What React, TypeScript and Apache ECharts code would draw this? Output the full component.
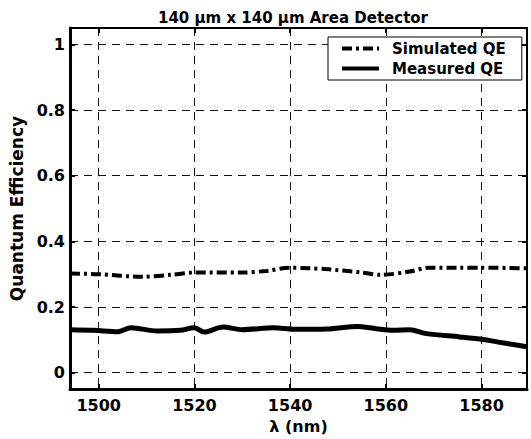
import React, { useEffect, useRef } from "react";
import * as echarts from "echarts";

const simWavelengths = [1494, 1500, 1509, 1515, 1520, 1530, 1535, 1540, 1544, 1548, 1555, 1559, 1565, 1569, 1575, 1580, 1589.5];
const simValues = [0.302, 0.300, 0.292, 0.298, 0.305, 0.305, 0.310, 0.320, 0.318, 0.315, 0.305, 0.298, 0.308, 0.320, 0.320, 0.320, 0.318];

const measWavelengths = [1494, 1499, 1504, 1506.7, 1512.3, 1517, 1520, 1522, 1526, 1530, 1536.6, 1541, 1547.7, 1554, 1558, 1561.5, 1565, 1568.5, 1575.4, 1580.3, 1584.4, 1589.5];
const measValues = [0.131, 0.129, 0.125, 0.137, 0.127, 0.129, 0.137, 0.124, 0.139, 0.131, 0.137, 0.132, 0.133, 0.141, 0.134, 0.129, 0.131, 0.119, 0.109, 0.101, 0.091, 0.079];

const seriesNames = ["Simulated QE", "Measured QE"];
const titleText = "140 \u00b5m x 140 \u00b5m Area Detector";
const xName = "\u03bb (nm)";
const yName = "Quantum Efficiency";

const FONT = "DejaVu Sans";

export default function App() {
  const ref = useRef<HTMLDivElement>(null);
  useEffect(() => {
    if (!ref.current) return;
    const chart = echarts.init(ref.current, null, { renderer: "svg" });
    const xMin = 1494, xMax = 1589.5, yMin = -0.05, yMax = 1.05;
    const gridLine = { show: true, lineStyle: { type: [8, 6], color: "#111", width: 1 } };
    const xFmt = (v: number) => (Math.abs(v % 20) < 1e-6 ? String(v) : "");
    const yFmt = (v: number) => {
      const r = Math.round(v * 10) / 10;
      if (Math.abs(r - v) > 1e-6 || v < -1e-9 || v > 1 + 1e-9) return "";
      return String(r);
    };
    const labelStyle = { fontFamily: FONT, fontWeight: "bold", fontSize: 16, color: "#000" };
    chart.setOption({
      animation: false,
      backgroundColor: "#fff",
      title: {
        text: titleText,
        left: 153,
        top: 5,
        textStyle: { fontFamily: FONT, fontWeight: "bold", fontSize: 15, color: "#000" },
      },
      legend: {
        orient: "vertical",
        left: 328,
        top: 37,
        padding: [4, 16, 4, 12],
        itemWidth: 37,
        itemHeight: 14,
        itemGap: 5,
        backgroundColor: "#fff",
        borderColor: "#000",
        borderWidth: 1,
        borderRadius: 0,
        itemStyle: { color: "transparent", borderWidth: 0, opacity: 0 },
        lineStyle: { width: 4 },
        textStyle: { fontFamily: FONT, fontWeight: "bold", fontSize: 15, color: "#000", padding: [0, 0, 0, 8] },
        data: [{ name: seriesNames[0] }, { name: seriesNames[1] }],
      },
      grid: { left: 69, right: 4, top: 28, bottom: 46, containLabel: false },
      xAxis: [
        {
          type: "value",
          min: xMin,
          max: xMax,
          minInterval: 20,
          maxInterval: 20,
          position: "bottom",
          name: xName,
          nameLocation: "middle",
          nameGap: 26,
          nameTextStyle: labelStyle,
          axisLine: { show: true, onZero: false, lineStyle: { color: "#000", width: 3 } },
          axisTick: { show: true, inside: true, length: 5, lineStyle: { color: "#000", width: 2 } },
          axisLabel: { ...labelStyle, formatter: xFmt, margin: 8 },
          splitLine: gridLine,
        },
        {
          type: "value",
          min: xMin,
          max: xMax,
          minInterval: 20,
          maxInterval: 20,
          position: "top",
          axisLine: { show: true, onZero: false, lineStyle: { color: "#000", width: 2 } },
          axisTick: { show: true, inside: true, length: 5, lineStyle: { color: "#000", width: 2 } },
          axisLabel: { show: false },
          splitLine: { show: false },
        },
      ],
      yAxis: [
        {
          type: "value",
          min: yMin,
          max: yMax,
          minInterval: 0.2,
          maxInterval: 0.2,
          position: "left",
          name: yName,
          nameLocation: "middle",
          nameGap: 45,
          nameTextStyle: { ...labelStyle, fontSize: 17 },
          axisLine: { show: true, onZero: false, lineStyle: { color: "#000", width: 3 } },
          axisTick: { show: true, inside: true, length: 5, lineStyle: { color: "#000", width: 2 } },
          axisLabel: { ...labelStyle, formatter: yFmt, margin: 5 },
          splitLine: gridLine,
        },
        {
          type: "value",
          min: yMin,
          max: yMax,
          minInterval: 0.2,
          maxInterval: 0.2,
          position: "right",
          axisLine: { show: true, onZero: false, lineStyle: { color: "#000", width: 2 } },
          axisTick: { show: true, inside: true, length: 5, lineStyle: { color: "#000", width: 2 } },
          axisLabel: { show: false },
          splitLine: { show: false },
        },
      ],
      series: [
        {
          name: seriesNames[0],
          type: "line",
          xAxisIndex: 0,
          yAxisIndex: 0,
          showSymbol: false,
          symbol: "none",
          smooth: 0.3,
          color: "#000",
          lineStyle: { color: "#000", width: 4, type: [10, 4, 3, 4], cap: "butt" },
          data: simWavelengths.map((w, i) => [w, simValues[i]]),
          z: 5,
        },
        {
          name: seriesNames[1],
          type: "line",
          xAxisIndex: 0,
          yAxisIndex: 0,
          showSymbol: false,
          symbol: "none",
          smooth: 0.3,
          color: "#000",
          lineStyle: { color: "#000", width: 5 },
          data: measWavelengths.map((w, i) => [w, measValues[i]]),
          z: 5,
        },
      ],
    });
    return () => chart.dispose();
  }, []);
  return (
    <div
      ref={ref}
      style={{ position: "fixed", left: 0, top: 0, width: 531, height: 439, background: "#fff" }}
    />
  );
}
